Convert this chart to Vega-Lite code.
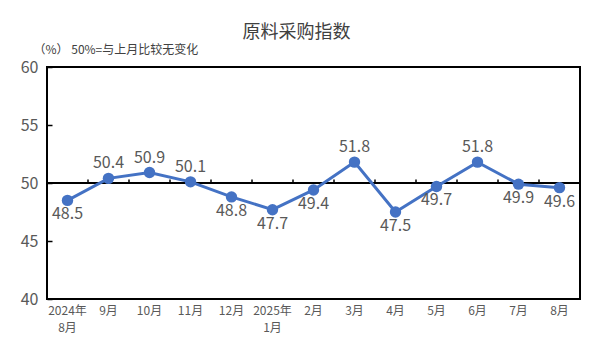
{
  "$schema": "https://vega.github.io/schema/vega-lite/v6.json",
  "width": 533,
  "height": 232,
  "autosize": "none",
  "padding": {"left": 47, "top": 67, "right": 11, "bottom": 55},
  "background": "white",
  "config": {
    "font": "Noto Sans CJK SC",
    "view": {"stroke": "black", "strokeWidth": 2},
    "title": {"font": "Noto Sans CJK SC", "fontSize": 18, "fontWeight": "normal", "color": "#404040"}
  },
  "title": {"text": "原料采购指数", "anchor": "middle", "dx": -17, "offset": 1},
  "data": {
    "values": [
      {"m": "2024年|8月", "v": 48.5},
      {"m": "9月", "v": 50.4},
      {"m": "10月", "v": 50.9},
      {"m": "11月", "v": 50.1},
      {"m": "12月", "v": 48.8},
      {"m": "2025年|1月", "v": 47.7},
      {"m": "2月", "v": 49.4},
      {"m": "3月", "v": 51.8},
      {"m": "4月", "v": 47.5},
      {"m": "5月", "v": 49.7},
      {"m": "6月", "v": 51.8},
      {"m": "7月", "v": 49.9},
      {"m": "8月 ", "v": 49.6}
    ]
  },
  "encoding": {
    "x": {
      "field": "m", "type": "ordinal", "sort": null,
      "scale": {"paddingInner": 0, "paddingOuter": 0},
      "axis": {
        "title": null, "labelAngle": 0, "domain": false, "ticks": false,
        "labelExpr": "split(datum.label, '|')",
        "labelFont": "Noto Sans CJK SC", "labelFontSize": 12, "labelColor": "#595959",
        "labelPadding": 6, "labelLineHeight": 17, "labelBaseline": "top"
      }
    }
  },
  "layer": [
    {
      "mark": {"type": "rule", "color": "black", "strokeWidth": 2},
      "encoding": {"x": null, "y": {"datum": 50, "type": "quantitative"}}
    },
    {
      "mark": {"type": "rule", "color": "black", "strokeWidth": 1.5},
      "encoding": {
        "x": {"field": "m", "type": "ordinal", "sort": null, "bandPosition": 0},
        "y": {"datum": 50, "type": "quantitative"},
        "y2": {"datum": 50.3}
      }
    },
    {
      "mark": {"type": "line", "color": "#4472C4", "strokeWidth": 3},
      "encoding": {
        "y": {
          "field": "v", "type": "quantitative",
          "scale": {"domain": [40, 60], "nice": false, "zero": false},
          "axis": {
            "values": [40, 45, 50, 55, 60], "grid": false, "domain": false,
            "tickSize": -5, "tickColor": "black", "tickWidth": 1.5,
            "labelFont": "Noto Sans CJK SC", "labelFontSize": 16, "labelColor": "#595959", "labelPadding": 14,
            "title": "（%） 50%=与上月比较无变化",
            "titleAngle": 0, "titleAlign": "left", "titleBaseline": "bottom",
            "titleX": -14, "titleY": -11,
            "titleFont": "Noto Sans CJK SC", "titleFontSize": 12, "titleFontWeight": "normal", "titleColor": "#404040"
          }
        }
      }
    },
    {
      "mark": {"type": "circle", "color": "#4472C4", "opacity": 1, "size": 130},
      "encoding": {"y": {"field": "v", "type": "quantitative"}}
    },
    {
      "transform": [{"filter": "datum.v > 50"}],
      "mark": {"type": "text", "baseline": "bottom", "dy": -7, "fontSize": 16, "color": "#595959"},
      "encoding": {
        "y": {"field": "v", "type": "quantitative"},
        "text": {"field": "v", "type": "quantitative", "format": ".1f"}
      }
    },
    {
      "transform": [{"filter": "datum.v <= 50"}],
      "mark": {"type": "text", "baseline": "top", "dy": 6, "fontSize": 16, "color": "#595959"},
      "encoding": {
        "y": {"field": "v", "type": "quantitative"},
        "text": {"field": "v", "type": "quantitative", "format": ".1f"}
      }
    }
  ]
}
